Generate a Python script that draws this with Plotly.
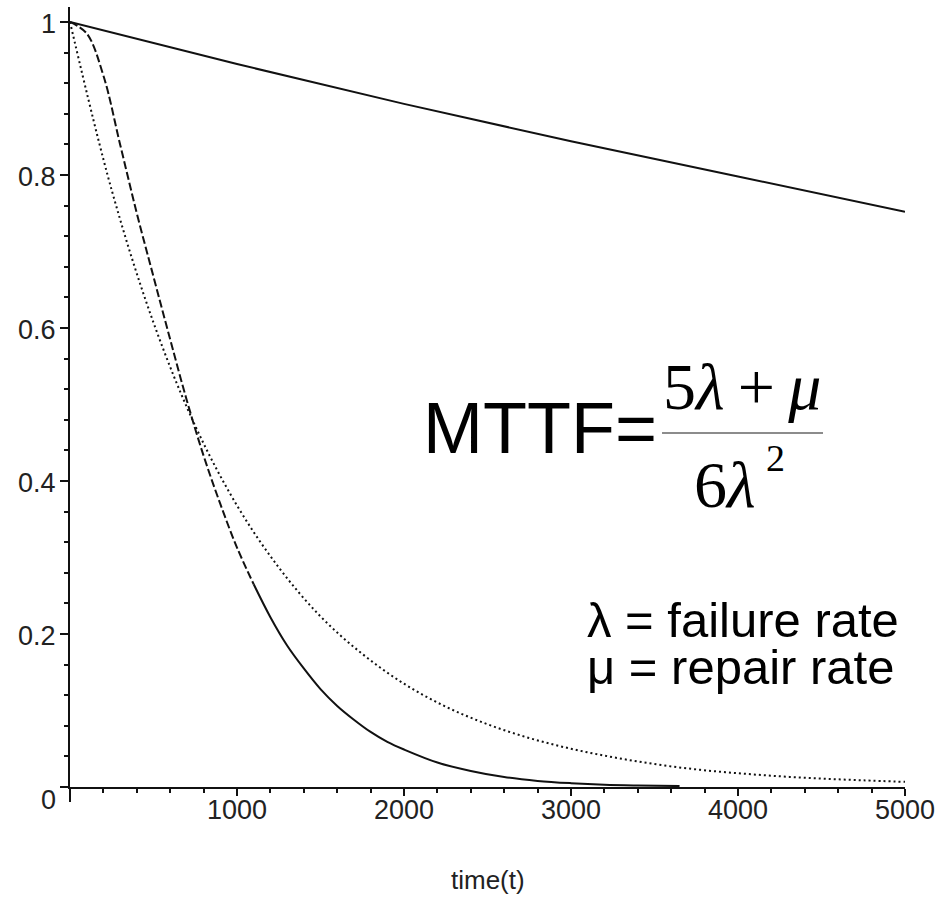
import plotly.graph_objects as go

# ---- data ----
t_solid = [0, 1000, 2000, 3000, 4000, 5000]
r_solid = [1.0, 0.945, 0.893, 0.844, 0.798, 0.752]

t_dash = [0, 100, 200, 300, 400, 500, 600, 700, 800, 900, 1000, 1100]
r_dash = [1.0, 0.985, 0.93, 0.84, 0.75, 0.667, 0.585, 0.505, 0.433, 0.37, 0.313, 0.265]

t_dash_tail = [1100, 1200, 1300, 1400, 1500, 1600, 1700, 1800, 1900, 2000, 2200, 2400,
               2600, 2800, 3000, 3200, 3400, 3650]
r_dash_tail = [0.265, 0.222, 0.185, 0.155, 0.128, 0.106, 0.088, 0.072, 0.059, 0.049,
               0.032, 0.021, 0.013, 0.008, 0.005, 0.003, 0.002, 0.0012]

t_dot = [0, 250, 500, 750, 1000, 1250, 1500, 1750, 2000, 2250, 2500, 2750, 3000,
         3250, 3500, 3750, 4000, 4250, 4500, 4750, 5000]
r_dot = [1.0, 0.78, 0.607, 0.472, 0.368, 0.287, 0.223, 0.174, 0.135, 0.105, 0.082,
         0.064, 0.05, 0.039, 0.030, 0.023, 0.018, 0.014, 0.011, 0.0087, 0.0067]

x_tickvals = [0, 1000, 2000, 3000, 4000, 5000]
x_ticktext = ["", "1000", "2000", "3000", "4000", "5000"]
y_tickvals = [0, 0.2, 0.4, 0.6, 0.8, 1.0]
y_ticktext = ["0", "0.2", "0.4", "0.6", "0.8", "1"]

INK = "#111111"
TICKFONT = dict(family="Liberation Sans, Arial, sans-serif", size=27, color="#222222")

fig = go.Figure()
fig.add_trace(go.Scatter(x=t_solid, y=r_solid, mode="lines",
                         line=dict(color=INK, width=2), hoverinfo="skip"))
fig.add_trace(go.Scatter(x=t_dot, y=r_dot, mode="lines", line_shape="spline",
                         line=dict(color=INK, width=2, dash="2px,3px"), hoverinfo="skip"))
fig.add_trace(go.Scatter(x=t_dash, y=r_dash, mode="lines", line_shape="spline",
                         line=dict(color=INK, width=2, dash="8px,3px"), hoverinfo="skip"))
fig.add_trace(go.Scatter(x=t_dash_tail, y=r_dash_tail, mode="lines", line_shape="spline",
                         line=dict(color=INK, width=2), hoverinfo="skip"))

fig.update_layout(
    width=947, height=898,
    margin=dict(l=70, r=42, t=7, b=111),
    paper_bgcolor="white", plot_bgcolor="white",
    showlegend=False,
    xaxis=dict(range=[0, 5000], showgrid=False, zeroline=False,
               showline=True, linecolor=INK, linewidth=2,
               tickvals=x_tickvals, showticklabels=False,
               ticks="outside", ticklen=7, tickwidth=2, tickcolor=INK,
               minor=dict(dtick=200, ticks="outside", ticklen=4, tickwidth=2, tickcolor=INK)),
    yaxis=dict(range=[0, 1.0196], showgrid=False, zeroline=False,
               showline=True, linecolor=INK, linewidth=2,
               tickvals=y_tickvals, showticklabels=False,
               ticks="outside", ticklen=8, tickwidth=2, tickcolor=INK,
               minor=dict(dtick=0.04, ticks="outside", ticklen=4, tickwidth=2, tickcolor=INK)),
)

# axis extension below origin
fig.add_shape(type="line", xref="x domain", yref="y domain",
              x0=0, x1=0, y0=0, y1=-15 / 780, line=dict(color=INK, width=2))

# fraction bar
fig.add_shape(type="line", xref="x", yref="y", x0=3545, x1=4509, y0=0.4627, y1=0.4627,
              line=dict(color="#666666", width=1.5))

SERIF = "Liberation Serif, Times New Roman, serif"
SANS = "Liberation Sans, Arial, sans-serif"
TS = "\u2009"
ann = []
# tick labels (placed through the axes)
for v, s in zip(x_tickvals, x_ticktext):
    if s:
        ann.append(dict(text=s, x=v, y=0, xref="x", yref="paper", xanchor="center",
                        yanchor="middle", yshift=-23, showarrow=False, font=TICKFONT))
for v, s in zip(y_tickvals, y_ticktext):
    ann.append(dict(text=s, x=0, y=v, xref="paper", yref="y", xanchor="right",
                    yanchor="middle", xshift=-12, yshift=(-13 if v == 0 else -2),
                    showarrow=False, font=TICKFONT))

ann += [
    dict(text="time(t)", x=0.5, y=-0.119, xref="paper", yref="paper",
         xanchor="center", yanchor="middle", showarrow=False,
         font=dict(family=SANS, size=26, color="#222222")),
    dict(text="MTTF=", x=2814, y=0.469, xref="x", yref="y", xanchor="center",
         yanchor="middle", showarrow=False, font=dict(family=SANS, size=72, color="black")),
    dict(text="5<i>λ</i>" + TS + "+" + TS + "<i>μ</i>", x=4024, y=0.524, xref="x", yref="y",
         xanchor="center", yanchor="middle", showarrow=False,
         font=dict(family=SERIF, size=66, color="black")),
    dict(text="6<i>λ</i>", x=3922, y=0.395, xref="x", yref="y", xanchor="center",
         yanchor="middle", showarrow=False, font=dict(family=SERIF, size=66, color="black")),
    dict(text="2", x=4222, y=0.430, xref="x", yref="y", xanchor="center",
         yanchor="middle", showarrow=False, font=dict(family=SERIF, size=38, color="black")),
    dict(text="λ = failure rate", x=3084, y=0.218, xref="x", yref="y", xanchor="left",
         yanchor="middle", showarrow=False, font=dict(family=SANS, size=49, color="black")),
    dict(text="μ = repair rate", x=3084, y=0.157, xref="x", yref="y", xanchor="left",
         yanchor="middle", showarrow=False, font=dict(family=SANS, size=49, color="black")),
]
fig.update_layout(annotations=ann)

fig.write_html("out.html")
